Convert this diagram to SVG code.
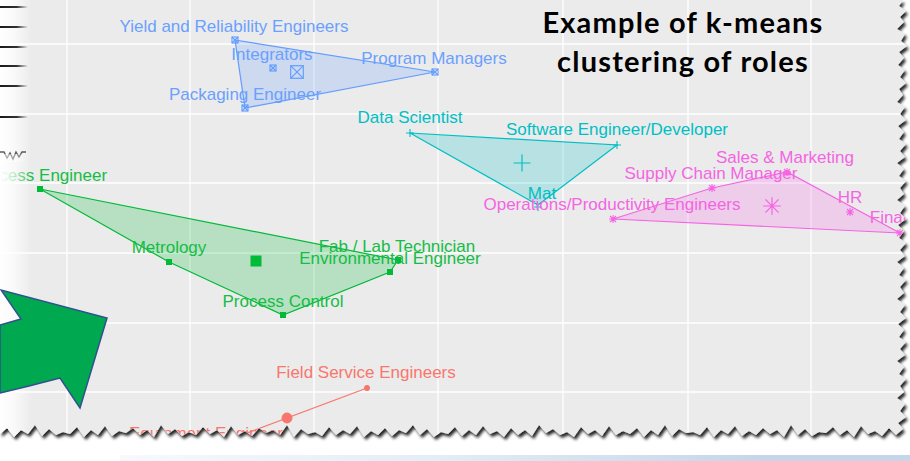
<svg xmlns="http://www.w3.org/2000/svg" xmlns:xlink="http://www.w3.org/1999/xlink" width="910" height="461" viewBox="0 0 910 461">
  <style>
    .grid { stroke:#ffffff; stroke-width:1.3; fill:none }
    .lbl { font-family:"Liberation Sans", Arial, sans-serif; font-size:17px; text-anchor:middle }
    .title { font-family:Lato, "Liberation Sans", sans-serif; font-weight:bold; font-size:29px; letter-spacing:1.2px; text-anchor:middle; fill:#000 }
    .hull { stroke-width:1.2; fill-opacity:0.22 }
    .c-red { fill:#F8766D; stroke:#F8766D }
    .c-green { fill:#00BA38; stroke:#00BA38 }
    .c-cyan { fill:#00BFC4; stroke:#00BFC4 }
    .c-blue { fill:#619CFF; stroke:#619CFF }
    .c-pink { fill:#F564E3; stroke:#F564E3 }
    .t-red { fill:#F8766D }
    .t-green { fill:#14BD45 }
    .t-cyan { fill:#00BFC4 }
    .t-blue { fill:#6AA0FF }
    .t-pink { fill:#F564E3 }
    .mk { fill:none; stroke-width:1.1 }
  </style>
  <defs>
    <!-- torn sheet outline: straight top/left, ragged right and bottom -->
    <path id="paper" d="M0,0 H903 L899,6 906,11 900,17 904,22 897,29 905,34 901,41 907,46 899,52 904,58 898,65 905,70 900,77 906,83 899,89 903,95 897,102 905,107 900,114 906,120 898,126 904,132 899,139 906,144 900,151 905,157 897,163 904,169 899,176 906,181 900,188 904,194 897,200 905,206 900,213 906,219 898,225 904,231 899,238 906,243 900,250 905,256 897,262 904,268 899,275 906,280 900,287 904,293 897,299 905,305 900,312 906,318 898,324 904,330 899,337 906,342 900,349 905,355 897,361 904,367 899,374 906,379 900,386 904,392 897,398 905,404 900,411 906,417 898,423 903,429
      L896,435 889,428 882,436 875,431 868,434 861,426 854,437 847,430 840,435 833,427 826,433 819,432 812,436 805,429 798,435 791,425 784,437 777,430 770,434 763,428
      756,435 749,431 742,436 735,426 728,434 721,430 714,437 707,427 700,435 693,432 686,433 679,429 672,436 665,425 658,435 651,430 644,437 637,428 630,434 623,431
      616,435 609,426 602,436 595,430 588,434 581,427 574,437 567,432 560,435 553,429 546,433 539,425 532,436 525,430 518,435 511,428 504,437 497,431 490,434 483,426
      476,435 469,430 462,436 455,427 448,434 441,432 434,437 427,429 420,435 413,425 406,433 399,430 392,436 385,428 378,435 371,431 364,437 357,426 350,434 343,430
      336,435 329,427 322,436 315,432 308,434 301,429 294,437 287,425 280,435 273,430 266,433 259,428 252,436 245,431 238,435 231,426 224,437 217,430 210,434 203,427
      196,435 189,432 182,436 175,429 168,434 161,425 154,437 147,430 140,435 133,428 126,433 119,431 112,436 105,426 98,435 91,430 84,437 77,427 70,434 63,432
      56,435 49,429 42,436 35,425 28,434 21,430 14,437 7,428 0,434 Z"/>
    <clipPath id="paperClip"><use xlink:href="#paper"/></clipPath>
    <filter id="tornShadow" x="-5%" y="-5%" width="110%" height="115%">
      <feDropShadow dx="2" dy="3" stdDeviation="1.8" flood-color="#000" flood-opacity="0.85"/>
    </filter>
    <linearGradient id="leftFade" x1="0" y1="0" x2="1" y2="0">
      <stop offset="0" stop-color="#fff" stop-opacity="1"/>
      <stop offset="0.45" stop-color="#fff" stop-opacity="0.7"/>
      <stop offset="1" stop-color="#fff" stop-opacity="0"/>
    </linearGradient>
    <linearGradient id="tickFade" x1="0" y1="0" x2="28" y2="0" gradientUnits="userSpaceOnUse">
      <stop offset="0" stop-color="#000" stop-opacity="0.9"/>
      <stop offset="0.6" stop-color="#000" stop-opacity="0.8"/>
      <stop offset="1" stop-color="#000" stop-opacity="0"/>
    </linearGradient>
    <linearGradient id="bandFade" x1="120" y1="0" x2="760" y2="0" gradientUnits="userSpaceOnUse">
      <stop offset="0" stop-color="#F7F9FC"/>
      <stop offset="0.5" stop-color="#E4ECF5"/>
      <stop offset="1" stop-color="#C6D6E8"/>
    </linearGradient>
    <!-- point glyphs -->
    <g id="boxX"><rect x="-3" y="-3" width="6" height="6"/><path d="M-3,-3 L3,3 M3,-3 L-3,3"/></g>
    <path id="plus" d="M-4,0 H4 M0,-4 V4"/>
    <path id="star" d="M-4,0 H4 M0,-4 V4 M-3,-3 L3,3 M3,-3 L-3,3"/>
  </defs>

  <!-- page background and bottom band -->
  <rect width="910" height="461" fill="#ffffff"/>
  <rect x="120" y="455" width="790" height="6" fill="url(#bandFade)"/>

  <!-- plot sheet -->
  <use xlink:href="#paper" fill="#EBEBEB" filter="url(#tornShadow)"/>

  <g clip-path="url(#paperClip)">
    <!-- grid -->
    <g class="grid">
      <path d="M67,0 V461 M190,0 V461 M314,0 V461 M438,0 V461 M563,0 V461 M688,0 V461 M811,0 V461"/>
      <path d="M0,44 H910 M0,114 H910 M0,183 H910 M0,253 H910 M0,323 H910 M0,392 H910"/>
    </g>

    <!-- cluster outlines and links -->
    <g id="connectors">
      <polygon class="hull c-blue" points="235,40 435,72 245,108"/>
      <polygon class="hull c-cyan" points="410,133 617,145 538,205"/>
      <polygon class="hull c-pink" points="613,219 712,188 787,172 900,233"/>
      <polygon class="hull c-green" points="40,189 398,260 390,272 283,315 169,262"/>
      <path class="c-red" fill="none" stroke-width="1.2" d="M367,388 L207,448"/>
    </g>

    <!-- blue cluster -->
    <g id="yield-reliability">
      <use xlink:href="#boxX" class="mk c-blue" style="fill:none" transform="translate(235,40)"/>
      <text class="lbl t-blue" x="234" y="32">Yield and Reliability Engineers</text>
    </g>
    <g id="integrators">
      <use xlink:href="#boxX" class="mk c-blue" style="fill:none" transform="translate(273,68)"/>
      <text class="lbl t-blue" x="272" y="60">Integrators</text>
    </g>
    <g id="packaging">
      <use xlink:href="#boxX" class="mk c-blue" style="fill:none" transform="translate(245,108)"/>
      <text class="lbl t-blue" x="245" y="100">Packaging Engineer</text>
    </g>
    <g id="program-managers">
      <use xlink:href="#boxX" class="mk c-blue" style="fill:none" transform="translate(435,72)"/>
      <text class="lbl t-blue" x="434" y="64">Program Managers</text>
    </g>
    <g id="center-blue">
      <use xlink:href="#boxX" class="mk c-blue" style="fill:none;stroke-width:0.55" transform="translate(297,72) scale(2.1)"/>
    </g>

    <!-- cyan cluster -->
    <g id="data-scientist">
      <use xlink:href="#plus" class="mk c-cyan" transform="translate(410,133)"/>
      <text class="lbl t-cyan" x="410" y="123">Data Scientist</text>
    </g>
    <g id="software-engineer">
      <use xlink:href="#plus" class="mk c-cyan" transform="translate(617,145)"/>
      <text class="lbl t-cyan" x="617" y="135">Software Engineer/Developer</text>
    </g>
    <g id="mat">
      <use xlink:href="#plus" class="mk c-cyan" transform="translate(538,207)"/>
      <text class="lbl t-cyan" x="542" y="199">Mat</text>
    </g>
    <g id="center-cyan">
      <use xlink:href="#plus" class="mk c-cyan" style="stroke-width:0.55" transform="translate(522,163) scale(2.1)"/>
    </g>

    <!-- magenta cluster -->
    <g id="operations">
      <use xlink:href="#star" class="mk c-pink" transform="translate(613,219)"/>
      <text class="lbl t-pink" x="612" y="210">Operations/Productivity Engineers</text>
    </g>
    <g id="supply-chain">
      <use xlink:href="#star" class="mk c-pink" transform="translate(712,188)"/>
      <text class="lbl t-pink" x="711" y="179">Supply Chain Manager</text>
    </g>
    <g id="sales-marketing">
      <use xlink:href="#star" class="mk c-pink" transform="translate(787,172)"/>
      <text class="lbl t-pink" x="785" y="163">Sales &amp; Marketing</text>
    </g>
    <g id="hr">
      <use xlink:href="#star" class="mk c-pink" transform="translate(850,212)"/>
      <text class="lbl t-pink" x="850" y="203">HR</text>
    </g>
    <g id="finance">
      <use xlink:href="#star" class="mk c-pink" transform="translate(900,233)"/>
      <text class="lbl t-pink" x="900" y="223">Finance</text>
    </g>
    <g id="center-pink">
      <use xlink:href="#star" class="mk c-pink" style="stroke-width:0.55" transform="translate(772,206) scale(2.2)"/>
    </g>

    <!-- green cluster -->
    <g id="process-engineer">
      <rect class="c-green" x="37.5" y="186.5" width="5" height="5"/>
      <text class="lbl t-green" x="40" y="181">Process Engineer</text>
    </g>
    <g id="metrology">
      <rect class="c-green" x="166.5" y="259.5" width="5" height="5"/>
      <text class="lbl t-green" x="169" y="253">Metrology</text>
    </g>
    <g id="fab-lab">
      <rect class="c-green" x="395.5" y="257.5" width="5" height="5"/>
      <text class="lbl t-green" x="397" y="252">Fab / Lab Technician</text>
    </g>
    <g id="environmental">
      <rect class="c-green" x="387.5" y="269.5" width="5" height="5"/>
      <text class="lbl t-green" x="390" y="264">Environmental Engineer</text>
    </g>
    <g id="process-control">
      <rect class="c-green" x="280.5" y="312.5" width="5" height="5"/>
      <text class="lbl t-green" x="283" y="307">Process Control</text>
    </g>
    <g id="center-green">
      <rect class="c-green" x="251" y="256" width="10" height="10"/>
    </g>

    <!-- red cluster -->
    <g id="field-service">
      <circle class="c-red" cx="367" cy="388" r="2.6"/>
      <text class="lbl t-red" x="366" y="378">Field Service Engineers</text>
    </g>
    <g id="equipment">
      <circle class="c-red" cx="207" cy="448" r="2.6"/>
      <text class="lbl t-red" x="206" y="439">Equipment Engineer</text>
    </g>
    <g id="center-red">
      <circle class="c-red" cx="287" cy="418" r="5"/>
    </g>

    <!-- washed-out left margin with the edge of a sheet behind -->
    <rect x="0" y="0" width="32" height="440" fill="url(#leftFade)"/>
    <g stroke="url(#tickFade)" stroke-width="2">
      <path d="M0,7 H28 M0,27 H28 M0,47 H28 M0,66 H28 M0,86 H28 M0,117 H28"/>
    </g>
    <path d="M0,152 L4,152 7,158 10,153 13,159 16,152 19,157 22,152 26,152" fill="none" stroke="#333" stroke-width="1.4" opacity="0.8"/>
    <rect x="0" y="154" width="30" height="8" fill="url(#leftFade)" opacity="0.6"/>
  </g>

  <!-- title -->
  <g id="title">
    <text class="title" x="683" y="33">Example of k-means</text>
    <text class="title" x="683" y="72">clustering of roles</text>
  </g>

  <!-- block arrow pointing at the plot -->
  <g id="arrow">
    <path d="M0,325 L21,319 L1,290 L107,318 L80,408 L60,378 Q30,386 0,393 Z" fill="#00A84F" stroke="#2F528F" stroke-width="1.5" stroke-linejoin="miter"/>
  </g>
</svg>
